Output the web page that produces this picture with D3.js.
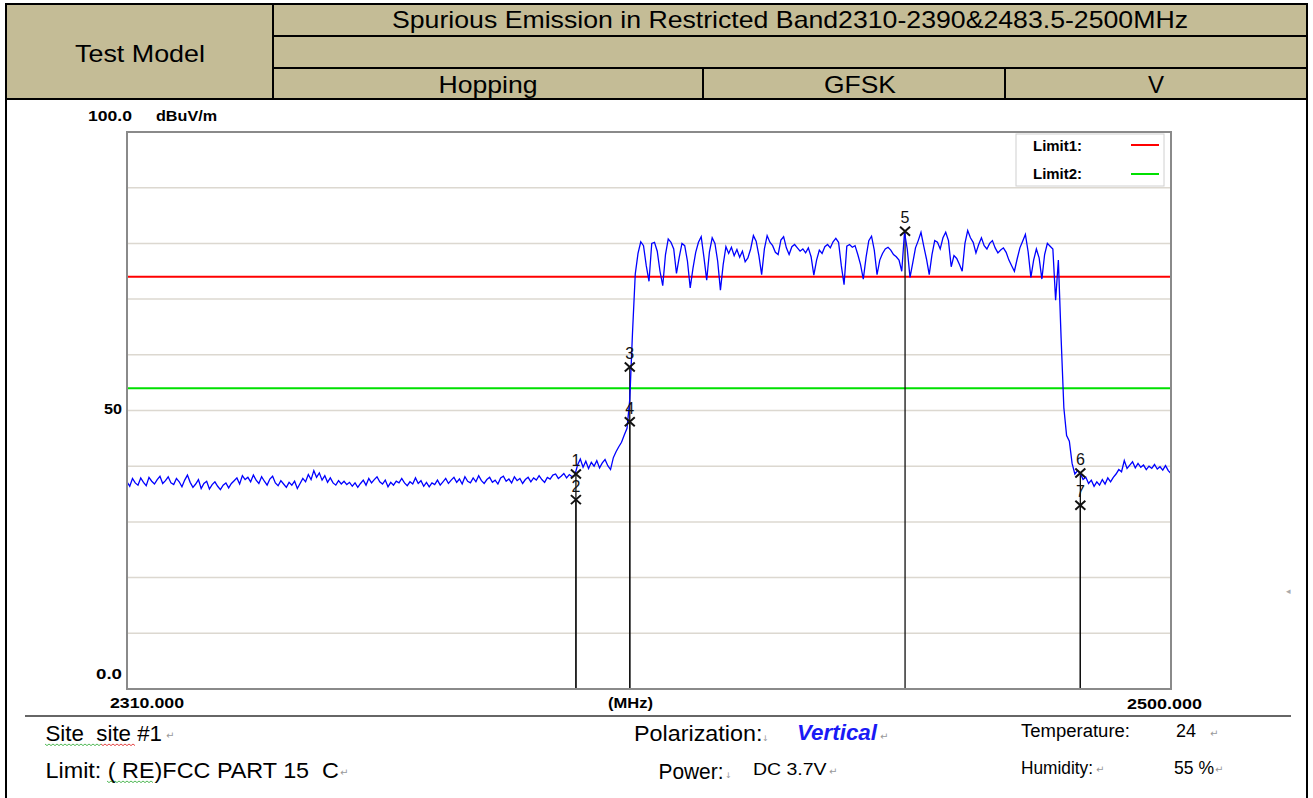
<!DOCTYPE html>
<html><head><meta charset="utf-8">
<script src="https://cdn.jsdelivr.net/npm/d3@7"></script>
<style>body{margin:0;background:#fff}svg{display:block}text{white-space:pre}</style>
</head><body><svg id="c" width="1313" height="798"></svg>
<script>
// ---- data (trace, 0.5 MHz per sample, dBuV/m) ----
const sweepStart = 2310, sweepStop = 2500;
const levelsLowFloor = [
37.2,36.4,37.8,37.0,36.6,37.9,37.1,36.5,38.0,37.3,36.8,37.6,38.2,36.9,37.4,38.1,37.0,36.7,37.8,37.2,
36.3,37.5,38.4,37.1,36.2,36.8,37.6,36.0,36.9,37.3,35.9,36.7,37.2,36.4,35.8,36.6,37.0,36.1,36.9,37.4,
37.9,36.8,38.3,37.6,38.0,37.2,38.4,37.5,36.9,38.1,37.3,36.6,37.7,38.2,37.0,36.5,37.4,36.8,36.2,37.1,
36.6,37.3,36.0,36.9,37.8,37.2,38.5,37.6,39.2,38.0,38.8,37.5,38.3,37.1,37.9,37.0,36.6,37.4,36.8,37.3,
36.7,37.1,36.4,37.0,36.2,36.9,37.5,36.6,37.8,37.0,37.6,38.1,37.2,36.8,37.5,36.3,37.1,36.6,37.3,37.0,
37.8,37.0,36.5,37.2,36.8,37.9,36.9,37.4,36.4,37.1,36.3,37.0,36.7,37.5,36.6,37.2,37.8,36.9,37.5,38.0,
37.1,37.7,36.8,38.1,37.3,37.0,37.9,37.2,38.3,37.4,36.9,37.6,38.0,37.1,37.5,36.8,37.9,38.2,37.3,37.7,
37.0,38.1,37.4,37.8,36.9,37.6,38.0,37.2,37.9,37.5,38.3,37.6,37.1,38.0,37.7,38.4,38.6,37.8,38.2,38.7,37.9,38.5,38.1,38.4];
const levelsRisingEdge = [40.2,41.3,39.8,40.9,39.6,40.7,40.0,41.0,39.7,40.6,41.2,40.1,39.4,41.5,42.6,43.5,44.3,45.6,46.8,52.0,64.0,74.5,78.2];
const levelsHopBand = [
80.3,79.6,76.0,73.2,80.0,80.2,78.6,75.0,72.4,78.0,
80.8,80.2,79.0,74.6,77.5,80.0,79.6,76.8,72.0,75.5,
78.4,80.2,81.2,77.5,73.4,78.5,81.0,80.0,76.8,71.6,
76.2,79.4,78.2,79.3,77.8,78.9,77.5,78.6,76.7,77.4,
79.0,81.4,80.4,77.8,74.4,79.0,81.4,80.2,79.6,78.4,
78.0,80.6,81.2,79.2,78.0,79.4,79.8,79.2,78.6,79.0,
78.3,79.2,77.6,74.3,77.0,78.8,78.2,79.4,79.8,79.2,
80.3,80.9,80.2,76.0,72.6,79.5,79.8,79.3,79.6,78.0,
76.2,73.6,77.5,80.5,81.3,78.8,74.4,77.0,78.2,79.0,
79.3,78.8,78.0,77.6,77.0,75.0,82.0,79.0,73.9,76.5,
79.2,80.5,82.0,79.5,77.2,74.4,78.0,80.5,80.2,79.0,
81.0,82.0,80.5,75.8,77.8,77.3,76.2,75.0,80.0,82.3,
81.0,80.2,78.3,79.8,81.0,79.6,79.0,80.0,80.5,79.2,
78.3,78.8,79.2,78.4,77.0,76.0,75.0,77.2,79.2,80.4,
81.6,78.5,73.9,77.0,79.0,77.4,73.6,78.0,80.0,79.5,
79.0,69.8,77.0];
const levelsFallingEdge = [63.0,50.5,45.5,44.5,40.5,38.6,39.2,38.7];
const levelsHighFloor = [
37.6,38.0,36.9,37.5,36.4,37.2,36.6,37.6,36.8,37.9,
37.2,38.0,38.6,39.4,39.0,41.0,39.6,40.2,40.8,39.7,
40.5,39.8,40.2,39.4,40.0,39.6,40.3,39.5,39.9,39.3,
40.1,39.2,38.7];

const markerNo = [1,2,3,4,5,6,7];
const markerFreq = [2391.7,2391.7,2401.5,2401.5,2451.6,2483.5,2483.5];
const markerLevel = [38.6,34.0,57.8,48.0,82.2,38.8,33.0];

const limitNames = ["Limit1:","Limit2:"];
const limitValues = [74,54];
const limitColors = ["#ff0000","#00e000"];

const yTickLabels = ["0.0","50","100.0"];
const yUnit = "dBuV/m";
const xTickLabels = ["2310.000","(MHz)","2500.000"];

const headerTitle = "Spurious Emission in Restricted Band2310-2390&2483.5-2500MHz";
const headerLabel = "Test Model";
const headerCells = ["Hopping","GFSK","V"];
const infoLeft = ["Site  site #1","Limit: ( RE)FCC PART 15  C"];
const infoMidLabels = ["Polarization:","Power:"];
const infoMidValues = ["Vertical","DC 3.7V"];
const infoRightLabels = ["Temperature:","Humidity:"];
const infoRightValues = ["24","55 %"];

// ---- drawing ----
const levels = levelsLowFloor.concat(levelsRisingEdge, levelsHopBand, levelsFallingEdge, levelsHighFloor);
const step = (sweepStop - sweepStart) / (levels.length - 1);
const trace = levels.map((v, i) => ({f: sweepStart + i * step, v}));

const svg = d3.select("#c");
const FONT = "'Liberation Sans', Arial, sans-serif";
function txt(x, y, s, o = {}) {
  const t = svg.append("text").attr("x", x).attr("y", y).text(s)
    .attr("font-family", o.family || FONT)
    .attr("font-size", o.size || 20)
    .attr("font-weight", o.weight || "normal")
    .attr("font-style", o.style || "normal")
    .attr("fill", o.fill || "#000")
    .attr("text-anchor", o.anchor || "start");
  if (o.len) t.attr("textLength", o.len).attr("lengthAdjust", "spacingAndGlyphs");
  return t;
}

// header table
svg.append("rect").attr("x", 6).attr("y", 4).attr("width", 1301).attr("height", 95).attr("fill", "#c4bc96");
const hl = [[6,4,1307,4],[273,36,1307,36],[273,68,1307,68],[6,99,1307,99],[273,4,273,99],[703,68,703,99],[1005,68,1005,99]];
hl.forEach(l => svg.append("line").attr("x1", l[0]).attr("y1", l[1]).attr("x2", l[2]).attr("y2", l[3]).attr("stroke", "#000").attr("stroke-width", 2));
svg.append("line").attr("x1", 6).attr("y1", 3).attr("x2", 6).attr("y2", 798).attr("stroke", "#000").attr("stroke-width", 2);
svg.append("line").attr("x1", 1307).attr("y1", 3).attr("x2", 1307).attr("y2", 798).attr("stroke", "#000").attr("stroke-width", 2);
txt(790, 28, headerTitle, {size: 24, anchor: "middle", len: 796});
txt(140, 62, headerLabel, {size: 24, anchor: "middle", len: 130});
const cellCx = [488, 860, 1156];
const cellLen = [99, 72, null];
headerCells.forEach((s, i) => txt(cellCx[i], 93, s, {size: 24, anchor: "middle", len: cellLen[i]}));

// plot
const x = d3.scaleLinear().domain([sweepStart, sweepStop]).range([127, 1171]);
const y = d3.scaleLinear().domain([0, 100]).range([689, 132]);

const grid = y.ticks(10).filter(d => d > 0 && d < 100);
svg.append("g").selectAll("line").data(grid).join("line")
  .attr("x1", x(sweepStart)).attr("x2", x(sweepStop))
  .attr("y1", d => y(d)).attr("y2", d => y(d))
  .attr("stroke", "#dcd8d0").attr("stroke-width", 1.5);

svg.append("g").selectAll("line").data(limitValues).join("line")
  .attr("x1", x(sweepStart)).attr("x2", x(sweepStop))
  .attr("y1", d => y(d)).attr("y2", d => y(d))
  .attr("stroke", (d, i) => limitColors[i]).attr("stroke-width", 2);

const markers = markerNo.map((n, i) => ({n, f: markerFreq[i], v: markerLevel[i]}));
svg.append("g").selectAll("line").data(markers).join("line")
  .attr("x1", d => x(d.f)).attr("x2", d => x(d.f))
  .attr("y1", d => y(d.v)).attr("y2", y(0))
  .attr("stroke", "#111").attr("stroke-width", 1.3);

svg.append("path").datum(trace)
  .attr("d", d3.line().x(d => x(d.f)).y(d => y(d.v)))
  .attr("fill", "none").attr("stroke", "#0000ff").attr("stroke-width", 1.3);

const mg = svg.append("g").selectAll("g").data(markers).join("g")
  .attr("transform", d => `translate(${x(d.f)},${y(d.v)})`);
mg.append("path").attr("d", "M-5,-4.5L5,4.5M-5,4.5L5,-4.5").attr("stroke", "#111").attr("stroke-width", 2).attr("fill", "none");
mg.append("text").attr("y", -8).attr("text-anchor", "middle").attr("font-family", FONT)
  .attr("font-size", 16).attr("fill", "#111").text(d => d.n);

// frame
svg.append("rect").attr("x", 127).attr("y", 132).attr("width", 1044).attr("height", 557)
  .attr("fill", "none").attr("stroke", "#8a8a8a").attr("stroke-width", 2);

// legend
svg.append("rect").attr("x", 1016).attr("y", 134).attr("width", 148).attr("height", 52)
  .attr("fill", "#fff").attr("stroke", "#d0d0d0").attr("stroke-width", 1);
limitNames.forEach((s, i) => {
  txt(1033, 151 + i * 28, s, {size: 15, weight: "bold", len: 49});
  svg.append("line").attr("x1", 1131).attr("x2", 1159).attr("y1", 145 + i * 29).attr("y2", 145 + i * 29)
    .attr("stroke", limitColors[i]).attr("stroke-width", 2);
});

// axis labels
const B = {size: 15.5, weight: "bold", family: FONT};
txt(132, 121, yTickLabels[2], {...B, anchor: "end", len: 44});
txt(156, 121, yUnit, {...B, len: 61});
txt(122, 414, yTickLabels[1], {...B, anchor: "end", len: 18});
txt(122, 679, yTickLabels[0], {...B, anchor: "end", len: 26});
txt(110, 708, xTickLabels[0], {...B, len: 74});
txt(608, 708, xTickLabels[1], {...B, len: 45});
txt(1202, 709, xTickLabels[2], {...B, anchor: "end", len: 75});

// footer
svg.append("line").attr("x1", 25).attr("x2", 1291).attr("y1", 716).attr("y2", 716).attr("stroke", "#333").attr("stroke-width", 1.5);
function zig(x0, x1, yy, c) {
  let p = `M${x0},${yy}`;
  for (let xx = x0 + 2, k = 1; xx <= x1; xx += 2, k++) p += `L${xx},${yy + (k % 2 ? 1.6 : 0)}`;
  svg.append("path").attr("d", p).attr("fill", "none").attr("stroke", c).attr("stroke-width", 0.9);
}
zig(45, 101, 744, "#3cb043"); zig(101, 135, 744, "#e03030"); zig(107, 153, 781, "#3cb043");

txt(45.5, 741, infoLeft[0], {size: 22, len: 116.5});
txt(45.5, 778, infoLeft[1], {size: 22, len: 293.5});
txt(634, 741, infoMidLabels[0], {size: 22, len: 128.5});
txt(797, 740, infoMidValues[0], {size: 22, weight: "bold", style: "italic", fill: "#1a1af5", len: 80});
txt(658.5, 779, infoMidLabels[1], {size: 22, len: 65});
txt(753, 775, infoMidValues[1], {size: 17, len: 73.6});
txt(1021, 737, infoRightLabels[0], {size: 18, len: 109});
txt(1176, 737, infoRightValues[0], {size: 18, len: 20});
txt(1021, 774, infoRightLabels[1], {size: 18, len: 72});
txt(1174, 774, infoRightValues[1], {size: 18, len: 40});
const G = {size: 10, fill: "#999", family: "'DejaVu Sans', sans-serif"};
[[166,739],[340,776],[880,740],[1210,737],[829,775],[1096,773],[1215,773]].forEach(p => txt(p[0], p[1], "\u21B5", G));
[[762,741],[725,778]].forEach(p => txt(p[0], p[1], "\u2193", {...G, size: 8}));
txt(1286, 594, "\u25C2", {...G, size: 9, fill: "#aaa"});
</script></body></html>
